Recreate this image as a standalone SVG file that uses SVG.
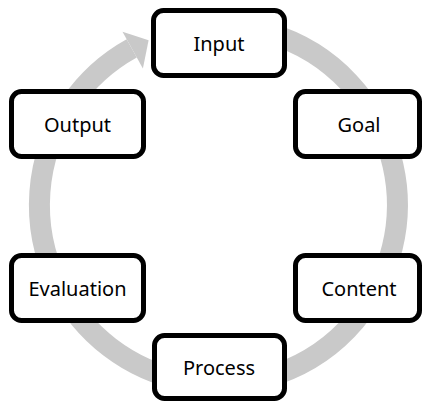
<svg xmlns="http://www.w3.org/2000/svg" width="423" height="401" viewBox="0 0 423 401">
<style>
.box{fill:#fff;stroke:#000;stroke-width:5}
.lbl{font-family:"Noto Sans","Open Sans",sans-serif;font-size:20px;fill:#000;text-anchor:middle}
.ring{fill:none;stroke:#c9c9c9;stroke-width:21}
</style>
<rect width="423" height="401" fill="#fff"/>
<g id="connectors">
<path class="ring" d="M187.4,28.7 A179,179 0 1 1 131.7,48.4"/>
<polygon points="122.5,31.8 148.6,40.2 142.9,68.6" fill="#c9c9c9"/>
</g>
<g id="input"><rect class="box" x="153.5" y="10.5" width="131" height="65" rx="10"/><text class="lbl" x="219" y="51">Input</text></g>
<g id="goal"><rect class="box" x="295.5" y="91.5" width="124" height="65" rx="10"/><text class="lbl" x="359" y="131.5">Goal</text></g>
<g id="content"><rect class="box" x="295.5" y="255.5" width="124" height="65" rx="10"/><text class="lbl" x="359" y="296">Content</text></g>
<g id="process"><rect class="box" x="154.5" y="335.5" width="130" height="63" rx="10"/><text class="lbl" x="219" y="375">Process</text></g>
<g id="evaluation"><rect class="box" x="11.5" y="255.5" width="132" height="65" rx="10"/><text class="lbl" x="77.5" y="296">Evaluation</text></g>
<g id="output"><rect class="box" x="11.5" y="91.5" width="132" height="65" rx="10"/><text class="lbl" x="77.5" y="131.5">Output</text></g>
</svg>
